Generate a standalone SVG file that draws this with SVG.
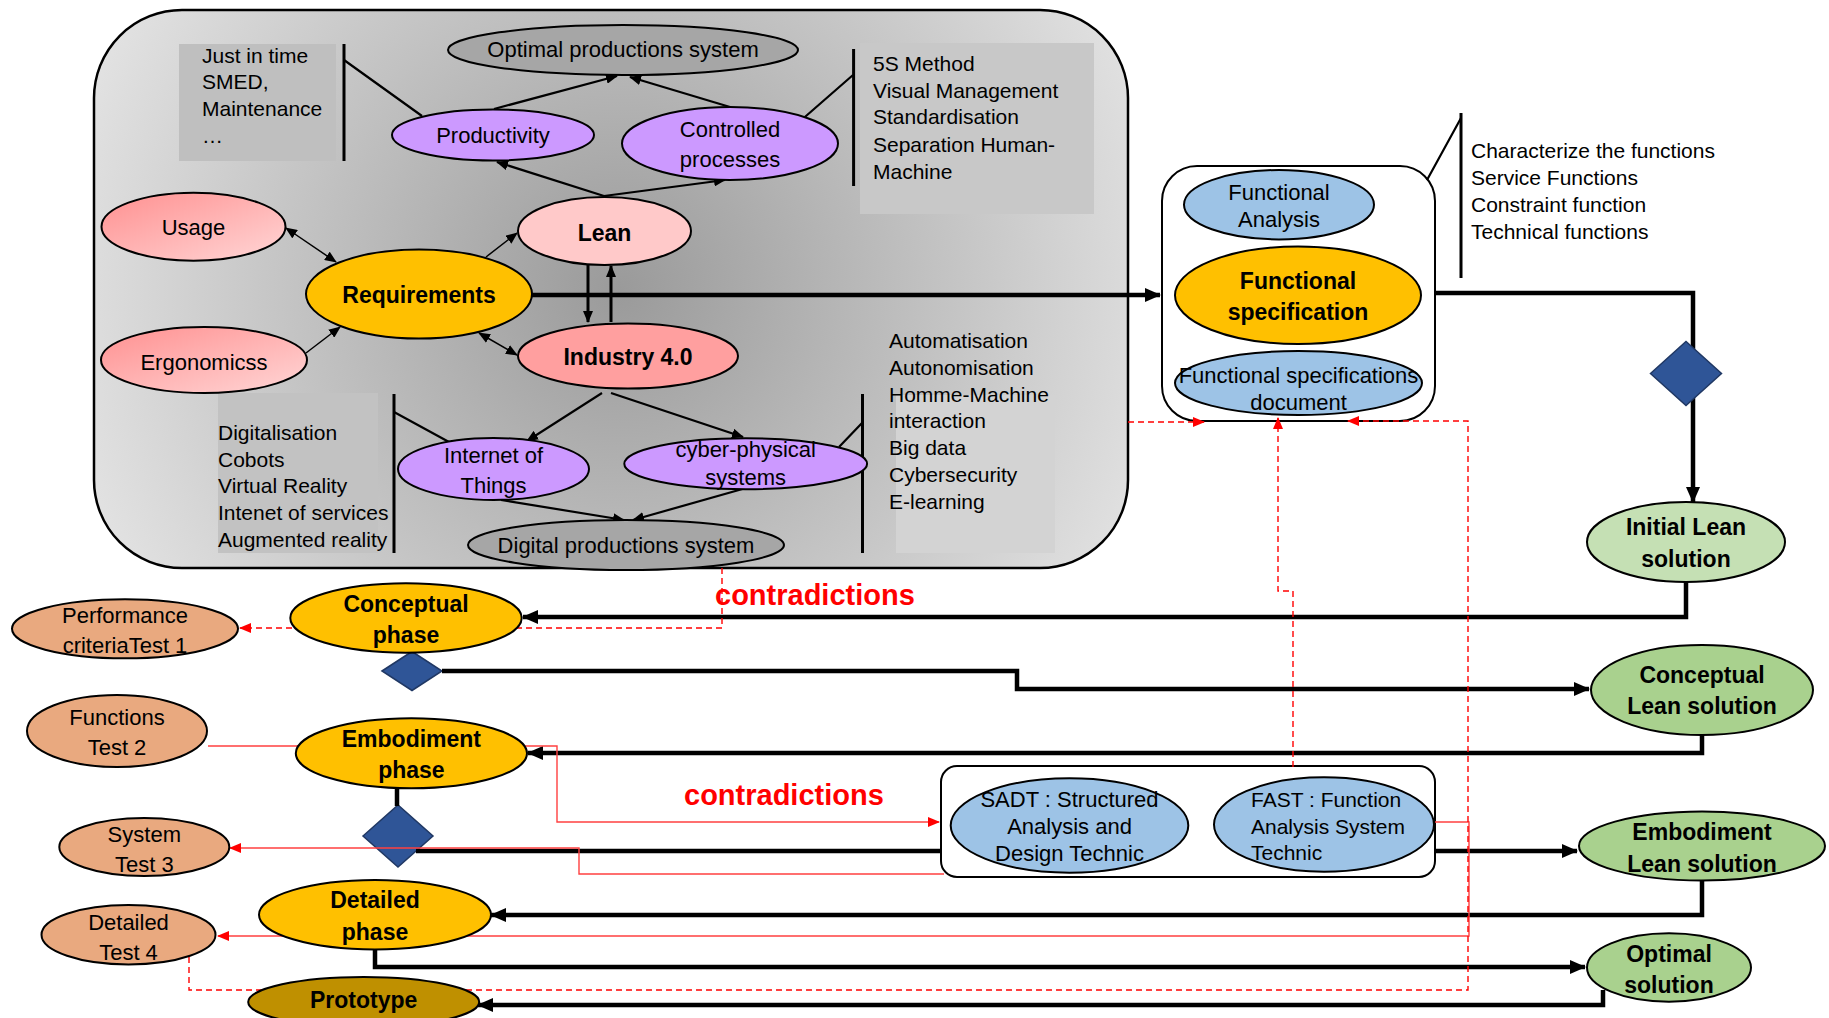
<svg xmlns="http://www.w3.org/2000/svg" width="1829" height="1018" viewBox="0 0 1829 1018">
<style>
text{font-family:"Liberation Sans",Arial,sans-serif;fill:#000}
.s{font-size:21px}
.n{font-size:22px;text-anchor:middle}
.b{font-size:23px;font-weight:bold;text-anchor:middle}
.r{font-size:29px;font-weight:bold;fill:#ff0000}
.e{stroke:#000;stroke-width:2}
.thin{stroke:#000;stroke-width:1.5;fill:none}
.med{stroke:#000;stroke-width:2.2;fill:none}
.thk{stroke:#000;stroke-width:4.5;fill:none}
.bar{stroke:#000;stroke-width:3;fill:none}
.rd{stroke:#ff0000;stroke-width:1.4;fill:none;stroke-dasharray:6,4}
.rs{stroke:#ff4040;stroke-width:1.4;fill:none}
.dia{fill:#2f5597;stroke:#203864;stroke-width:1.5}
</style>
<defs>
<radialGradient id="bg" gradientUnits="userSpaceOnUse" cx="620" cy="290" r="600">
<stop offset="0" stop-color="#9a9a9a"/><stop offset="1" stop-color="#e6e6e6"/>
</radialGradient>
<linearGradient id="pk" x1="0" y1="0" x2="1" y2="1">
<stop offset="0" stop-color="#ff9090"/><stop offset="1" stop-color="#ffd6d6"/>
</linearGradient>
<marker id="ak" markerUnits="userSpaceOnUse" markerWidth="16" markerHeight="14" refX="15" refY="7" orient="auto"><path d="M0,0 L16,7 L0,14 z" fill="#000"/></marker>
<marker id="am" markerUnits="userSpaceOnUse" markerWidth="12" markerHeight="10" refX="11" refY="5" orient="auto-start-reverse"><path d="M0,0 L12,5 L0,10 z" fill="#000"/></marker>
<marker id="ar" markerUnits="userSpaceOnUse" markerWidth="12" markerHeight="10" refX="11" refY="5" orient="auto"><path d="M0,0 L12,5 L0,10 z" fill="#ff0000"/></marker>
</defs>
<rect width="1829" height="1018" fill="#fff"/>

<g id="frame">
<rect x="94" y="10" width="1034" height="558" rx="88" fill="url(#bg)" stroke="#000" stroke-width="2.5"/>
<rect x="179" y="44" width="157" height="117" fill="#bfbfbf"/>
<rect x="860" y="43" width="234" height="171" fill="#c8c8c8"/>
<rect x="218" y="393" width="160" height="160" fill="#c2c2c2"/>
<rect x="896" y="395" width="159" height="158" fill="#d3d3d3"/>
<rect x="1162" y="166" width="273" height="255" rx="35" fill="#fff" stroke="#000" stroke-width="2"/>
<rect x="941" y="766" width="494" height="111" rx="16" fill="#fff" stroke="#000" stroke-width="2"/>
</g>

<g id="notes">
<text class="s" x="202" y="63">Just in time</text>
<text class="s" x="202" y="89">SMED,</text>
<text class="s" x="202" y="116">Maintenance</text>
<text class="s" x="202" y="143">…</text>
<text class="s" x="873" y="71">5S Method</text>
<text class="s" x="873" y="98">Visual Management</text>
<text class="s" x="873" y="124">Standardisation</text>
<text class="s" x="873" y="152">Separation Human-</text>
<text class="s" x="873" y="179">Machine</text>
<text class="s" x="218" y="440">Digitalisation</text>
<text class="s" x="218" y="467">Cobots</text>
<text class="s" x="218" y="493">Virtual Reality</text>
<text class="s" x="218" y="520">Intenet of services</text>
<text class="s" x="218" y="547">Augmented reality</text>
<text class="s" x="889" y="348">Automatisation</text>
<text class="s" x="889" y="375">Autonomisation</text>
<text class="s" x="889" y="402">Homme-Machine</text>
<text class="s" x="889" y="428">interaction</text>
<text class="s" x="889" y="455">Big data</text>
<text class="s" x="889" y="482">Cybersecurity</text>
<text class="s" x="889" y="509">E-learning</text>
<text class="s" x="1471" y="158">Characterize the functions</text>
<text class="s" x="1471" y="185">Service Functions</text>
<text class="s" x="1471" y="212">Constraint function</text>
<text class="s" x="1471" y="239">Technical functions</text>
<text class="r" x="715" y="605">contradictions</text>
<text class="r" x="684" y="805">contradictions</text>
</g>

<g id="diamond1"><polygon class="dia" points="382,671 412,651.5 442,671 412,690.5"/></g>
<g id="diamond2"><polygon class="dia" points="363,836 398,805 433,836 398,867"/></g>

<g id="connectors">
<path class="bar" d="M344,44 V161 M853.6,49 V186 M394,394 V553 M862.5,394 V553 M1461,113 V278"/>
<path class="med" d="M344,60 L422,116 M853,75 L798,123 M394,412 L449,442 M862,423 L839,447 M1427,180 L1461,118"/>
<path class="thin" d="M286,228 L336,262" marker-start="url(#am)" marker-end="url(#am)"/>
<path class="thin" d="M486,257 L517,233" marker-end="url(#am)"/>
<path class="thin" d="M306,353 L340,327" marker-end="url(#am)"/>
<path class="thin" d="M479,333 L517,355" marker-start="url(#am)" marker-end="url(#am)"/>
<path class="med" d="M494,109 L617,76" marker-end="url(#am)"/>
<path class="med" d="M730,107 L630,77" marker-end="url(#am)"/>
<path class="med" d="M604,196 L497,162" marker-end="url(#am)"/>
<path class="med" d="M604,196 L725,180" marker-end="url(#am)"/>
<path class="med" d="M602,393 L527,441" marker-end="url(#am)"/>
<path class="med" d="M611,393 L743,437" marker-end="url(#am)"/>
<path class="med" d="M501,500 L624,520" marker-end="url(#am)"/>
<path class="med" d="M746,488 L633,520" marker-end="url(#am)"/>
<path class="bar" d="M588,265 L588,322" marker-end="url(#am)"/>
<path class="bar" d="M611,322 L611,266" marker-end="url(#am)"/>
<path class="thk" d="M532,295 L1160,295" marker-end="url(#ak)"/>
<path class="thk" d="M1435,293 L1693,293 L1693,502" marker-end="url(#ak)"/>
<path class="thk" d="M1686,582 L1686,617 L523,617" marker-end="url(#ak)"/>
<path class="thk" d="M442,671 L1017,671 L1017,689 L1589,689" marker-end="url(#ak)"/>
<path class="thk" d="M1702,735 L1702,753 L528,753" marker-end="url(#ak)"/>
<path class="thk" d="M397,788 L397,806"/>
<path class="thk" d="M416,851 L941,851"/>
<path class="thk" d="M1435,851 L1577,851" marker-end="url(#ak)"/>
<path class="thk" d="M1702,881 L1702,915 L491,915" marker-end="url(#ak)"/>
<path class="thk" d="M375,949 L375,967 L1585,967" marker-end="url(#ak)"/>
<path class="thk" d="M1603,990 L1603,1005 L478,1005" marker-end="url(#ak)"/>
<path class="rd" d="M722,568 L722,628 L240,628" marker-end="url(#ar)"/>
<path class="rs" d="M208,746 L557,746 L557,822 L939,822" marker-end="url(#ar)"/>
<path class="rs" d="M944,874 L579,874 L579,848 L230,848" marker-end="url(#ar)"/>
<path class="rs" d="M1435,822 L1469,822 L1469,936 L218,936" marker-end="url(#ar)"/>
<path class="rd" d="M1128,422 L1204,422" marker-end="url(#ar)"/>
<path class="rd" d="M1293,767 L1293,591 L1278,591 L1278,418" marker-end="url(#ar)"/>
<path class="rd" d="M189,957 L189,990 L1468,990 L1468,421 L1348,421" marker-end="url(#ar)"/>
</g>

<g id="diamond3"><polygon class="dia" points="1650.5,373.5 1686,341.5 1721.5,373.5 1686,405.5"/></g>

<g id="optimal-productions"><ellipse class="e" cx="623" cy="50" rx="175" ry="25" fill="#a6a6a6"/><text class="n" x="623" y="57" font-size="23">Optimal productions system</text></g>
<g id="productivity"><ellipse class="e" cx="493" cy="135" rx="101" ry="25.5" fill="#cc99ff"/><text class="n" x="493" y="143">Productivity</text></g>
<g id="controlled"><ellipse class="e" cx="730" cy="143.5" rx="108" ry="36.5" fill="#cc99ff"/><text class="n" x="730" y="137">Controlled</text><text class="n" x="730" y="167">processes</text></g>
<g id="lean"><ellipse class="e" cx="604.5" cy="231" rx="86.5" ry="34" fill="#ffc9c9"/><text class="b" x="604.5" y="241" font-size="25">Lean</text></g>
<g id="usage"><ellipse class="e" cx="193.5" cy="226.7" rx="92" ry="34" fill="url(#pk)"/><text class="n" x="193.5" y="235">Usage</text></g>
<g id="requirements"><ellipse class="e" cx="419" cy="294" rx="113" ry="44.5" fill="#ffc000"/><text class="b" x="419" y="303" font-size="22">Requirements</text></g>
<g id="ergonomics"><ellipse class="e" cx="204" cy="360" rx="103" ry="33" fill="url(#pk)"/><text class="n" x="204" y="370">Ergonomicss</text></g>
<g id="industry"><ellipse class="e" cx="628" cy="356" rx="110" ry="32.5" fill="#ff9f9f"/><text class="b" x="628" y="365" font-size="26">Industry 4.0</text></g>
<g id="iot"><ellipse class="e" cx="493.5" cy="469" rx="95.5" ry="31" fill="#cc99ff"/><text class="n" x="493.5" y="463">Internet of</text><text class="n" x="493.5" y="493">Things</text></g>
<g id="cps"><ellipse class="e" cx="745.7" cy="463.8" rx="121.4" ry="25.5" fill="#cc99ff"/><text class="n" x="745.7" y="457">cyber-physical</text><text class="n" x="745.7" y="485">systems</text></g>
<g id="digital"><ellipse class="e" cx="626" cy="545" rx="158" ry="25" fill="#a6a6a6"/><text class="n" x="626" y="553" font-size="23">Digital productions system</text></g>

<g id="functional-analysis"><ellipse class="e" cx="1279" cy="204.7" rx="95" ry="34.7" fill="#9dc3e6"/><text class="n" x="1279" y="200" font-size="20">Functional</text><text class="n" x="1279" y="227" font-size="20">Analysis</text></g>
<g id="functional-spec"><ellipse class="e" cx="1298" cy="295.3" rx="123" ry="48.7" fill="#ffc000"/><text class="b" x="1298" y="289" font-size="22">Functional</text><text class="b" x="1298" y="320" font-size="22">specification</text></g>
<g id="fs-document"><ellipse class="e" cx="1298.5" cy="383" rx="123.5" ry="32" fill="#9dc3e6"/><text class="n" x="1298.5" y="383" font-size="20">Functional specifications</text><text class="n" x="1298.5" y="410" font-size="20">document</text></g>
<g id="initial-lean"><ellipse class="e" cx="1686" cy="542" rx="99" ry="40" fill="#c5e0b4"/><text class="b" x="1686" y="535" font-size="22">Initial Lean</text><text class="b" x="1686" y="567" font-size="22">solution</text></g>

<g id="test1"><ellipse class="e" cx="125" cy="628.8" rx="113" ry="29.5" fill="#e9a97f"/><text class="n" x="125" y="622.7">Performance</text><text class="n" x="125" y="653.3">criteriaTest  1</text></g>
<g id="conceptual-phase"><ellipse class="e" cx="406" cy="618" rx="115.7" ry="34.7" fill="#ffc000"/><text class="b" x="406" y="611.7">Conceptual</text><text class="b" x="406" y="643.3">phase</text></g>
<g id="test2"><ellipse class="e" cx="117" cy="731" rx="90" ry="36" fill="#e9a97f"/><text class="n" x="117" y="725">Functions</text><text class="n" x="117" y="755">Test 2</text></g>
<g id="conceptual-lean"><ellipse class="e" cx="1702" cy="690" rx="111" ry="45" fill="#a9d18e"/><text class="b" x="1702" y="683.3">Conceptual</text><text class="b" x="1702" y="714">Lean solution</text></g>
<g id="embodiment-phase"><ellipse class="e" cx="411.4" cy="753.3" rx="115.6" ry="35" fill="#ffc000"/><text class="b" x="411.4" y="746.7">Embodiment</text><text class="b" x="411.4" y="778.3">phase</text></g>
<g id="sadt"><ellipse class="e" cx="1069.5" cy="825.5" rx="118.8" ry="47.2" fill="#9dc3e6"/><text class="n" x="1069.5" y="806.7" font-size="20">SADT : Structured</text><text class="n" x="1069.5" y="834" font-size="20">Analysis and</text><text class="n" x="1069.5" y="860.7" font-size="20">Design Technic</text></g>
<g id="fast"><ellipse class="e" cx="1324" cy="824.5" rx="110" ry="47.2" fill="#9dc3e6"/><text class="s" x="1251" y="806.7" font-size="20">FAST : Function</text><text class="s" x="1251" y="834" font-size="20">Analysis System</text><text class="s" x="1251" y="860" font-size="20">Technic</text></g>
<g id="test3"><ellipse class="e" cx="144.3" cy="847" rx="85" ry="29" fill="#e9a97f"/><text class="n" x="144.3" y="841.7">System</text><text class="n" x="144.3" y="871.7">Test 3</text></g>
<g id="embodiment-lean"><ellipse class="e" cx="1702" cy="846" rx="123" ry="34.5" fill="#a9d18e"/><text class="b" x="1702" y="840">Embodiment</text><text class="b" x="1702" y="871.7">Lean solution</text></g>
<g id="detailed-phase"><ellipse class="e" cx="375" cy="914.7" rx="116" ry="34.7" fill="#ffc000"/><text class="b" x="375" y="908.3">Detailed</text><text class="b" x="375" y="940">phase</text></g>
<g id="test4"><ellipse class="e" cx="128.5" cy="934.7" rx="87" ry="29.7" fill="#e9a97f"/><text class="n" x="128.5" y="930">Detailed</text><text class="n" x="128.5" y="960">Test 4</text></g>
<g id="optimal-solution"><ellipse class="e" cx="1669" cy="967.5" rx="82" ry="34.2" fill="#a9d18e"/><text class="b" x="1669" y="961.7">Optimal</text><text class="b" x="1669" y="993.3">solution</text></g>
<g id="prototype"><ellipse class="e" cx="363.7" cy="1002" rx="115.5" ry="25" fill="#bf9000"/><text class="b" x="363.7" y="1008">Prototype</text></g>
</svg>
